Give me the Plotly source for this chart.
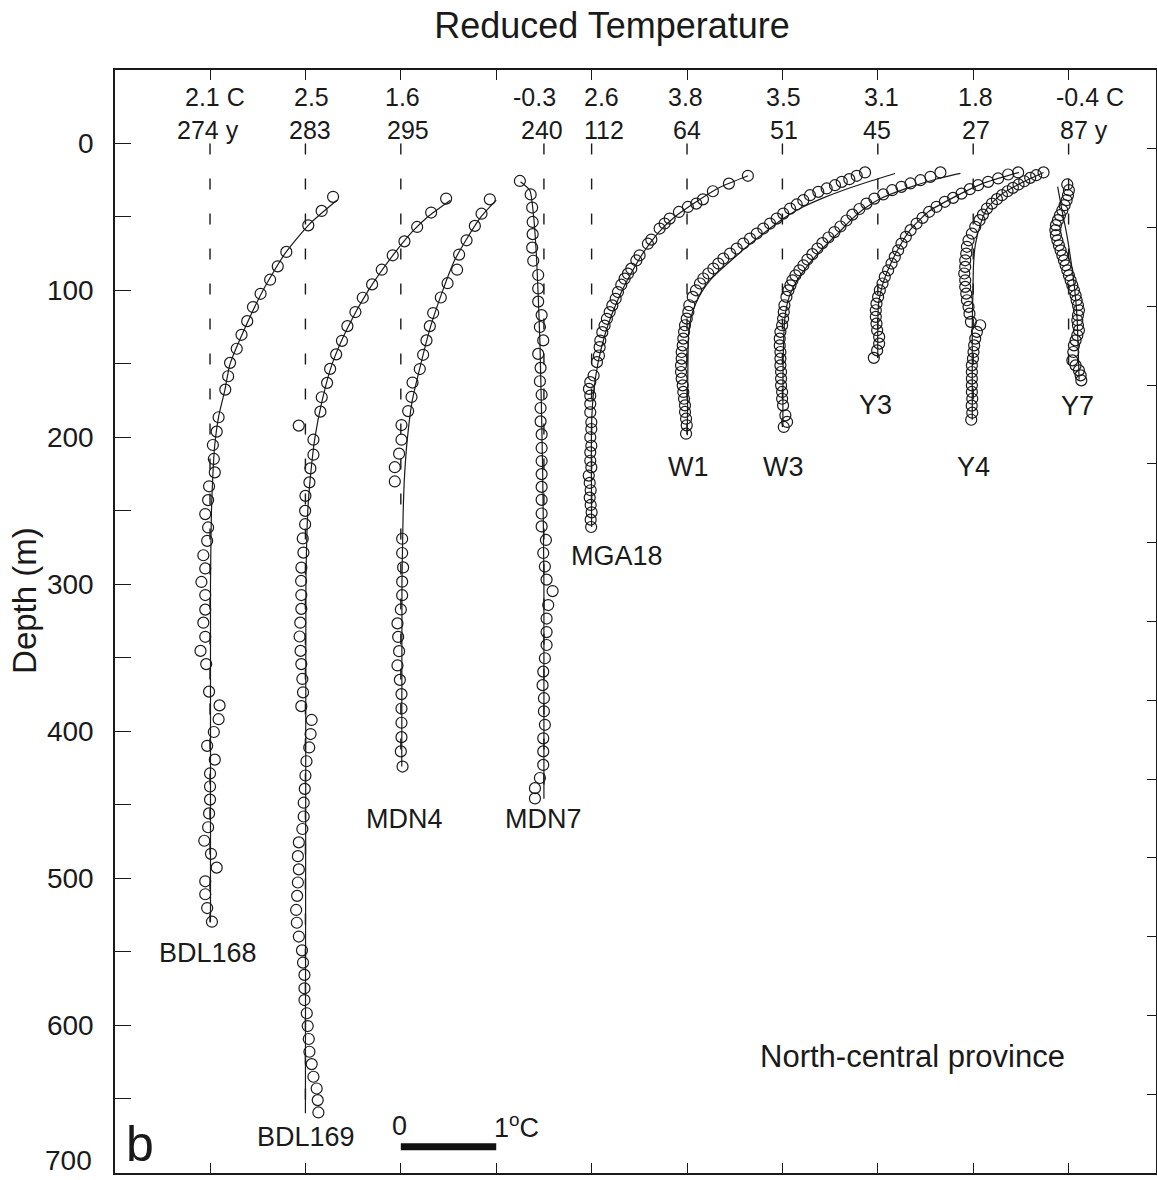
import plotly.graph_objects as go

FONT = "Liberation Sans, Arial, Helvetica, sans-serif"
INK = "#1a1a1a"

# ---------------- data ----------------
WELLS = ["BDL168", "BDL169", "MDN4", "MDN7", "MGA18", "W1", "W3", "Y3", "Y4", "Y7"]
WELL_X = [0.0, 1.0, 2.0, 3.5, 4.0, 5.0, 6.0, 7.0, 8.0, 9.0]      # reference (dashed) position, deg C offset
SURFACE_T = ["2.1 C", "2.5", "1.6", "-0.3", "2.6", "3.8", "3.5", "3.1", "1.8", "-0.4 C"]
AGE = ["274 y", "283", "295", "240", "112", "64", "51", "45", "27", "87 y"]
DEPTH_TICKS = [0, 100, 200, 300, 400, 500, 600, 700]

BDL168_z = [36.3, 45.9, 55.7, 73.8, 83.6, 92.7, 102.3, 111.3, 120.9, 130.2, 139.7, 149.3, 158.4, 167.5, 186.3,
            196.1, 205.2, 214.7, 223.8, 233.3, 242.7, 252.2, 261.3, 270.4, 280.2, 289.2, 298.4, 307.3, 317.2,
            326.1, 335.7, 345.3, 354.3, 373.0, 382.4, 391.8, 400.5, 409.9, 419.3, 428.7, 437.6, 446.5, 455.9,
            465.3, 474.5, 483.4, 492.8, 502.1, 510.9, 520.3, 529.6]
BDL168_dT = [1.29, 1.17, 1.03, 0.80, 0.71, 0.63, 0.53, 0.45, 0.39, 0.33, 0.28, 0.21, 0.19, 0.16, 0.09,
             0.07, 0.03, 0.04, 0.05, -0.01, -0.02, -0.05, -0.02, -0.03, -0.07, -0.05, -0.09, -0.05, -0.05,
             -0.07, -0.05, -0.10, -0.04, -0.01, 0.10, 0.09, 0.04, -0.03, 0.05, 0.0, 0.0, 0.0, -0.01,
             -0.02, -0.06, 0.01, 0.07, -0.05, -0.05, -0.03, 0.02]
BDL168_fit_z = [38.6, 55, 75, 100, 125, 150, 168, 186, 205, 225, 250, 300, 530]
BDL168_fit_dT = [1.33, 1.04, 0.785, 0.555, 0.37, 0.21, 0.155, 0.09, 0.05, 0.03, 0.015, 0.005, 0.005]

BDL169_z = [37.5, 47.0, 56.8, 66.6, 76.1, 85.9, 95.9, 105.0, 114.7, 124.3, 134.3, 143.5, 153.4, 162.9, 172.7,
            182.5, 192.0, 201.6, 211.8, 221.1, 230.6, 239.8, 250.0, 259.1, 268.8, 278.4, 288.6, 297.7, 307.3,
            316.7, 326.1, 335.5, 345.3, 354.3, 364.4, 373.5, 382.9, 392.3, 401.9, 411.0, 420.4, 430.1, 439.2,
            448.6, 458.0, 466.5, 475.6, 485.0, 494.0, 502.9, 512.0, 521.6, 530.3, 539.7, 549.1, 557.4, 565.8,
            574.9, 582.9, 591.9, 600.6, 609.4, 618.1, 626.5, 635.1, 643.1, 651.0, 659.4]
BDL169_dT = [1.475, 1.318, 1.171, 1.038, 0.915, 0.800, 0.699, 0.601, 0.524, 0.44, 0.383, 0.322, 0.259, 0.227,
             0.171, 0.157, -0.070, 0.084, 0.084, 0.052, 0.042, 0.0, -0.003, -0.003, -0.028, -0.021, -0.042,
             -0.045, -0.043, -0.043, -0.054, -0.061, -0.051, -0.043, -0.032, -0.025, -0.043, 0.065, 0.054,
             0.040, 0.011, 0.0, -0.007, -0.018, -0.018, -0.032, -0.069, -0.079, -0.069, -0.079, -0.087,
             -0.097, -0.090, -0.069, -0.036, -0.025, -0.010, -0.010, -0.010, 0.014, 0.024, 0.035, 0.042,
             0.066, 0.084, 0.118, 0.129, 0.136]
BDL169_fit_z = [38.6, 50, 60, 75, 100, 125, 150, 175, 200, 225, 250, 300, 660]
BDL169_fit_dT = [1.52, 1.28, 1.12, 0.93, 0.66, 0.445, 0.28, 0.175, 0.10, 0.055, 0.025, 0.005, 0.0]

MDN4_z = [38.0, 47.8, 56.1, 65.9, 75.6, 85.9, 95.1, 104.8, 115.4, 124.3, 134.0, 143.8, 153.5, 162.7, 172.5,
          182.1, 191.6, 201.6, 211.1, 220.3, 230.0, 269.0, 278.7, 288.5, 298.2, 307.4, 317.1, 326.6, 335.8,
          345.5, 355.2, 365.0, 374.7, 384.5, 394.2, 404.0, 413.7, 424.0]
MDN4_dT = [0.933, 0.846, 0.776, 0.689, 0.611, 0.590, 0.490, 0.419, 0.339, 0.304, 0.269, 0.234, 0.199, 0.123,
           0.112, 0.077, 0.007, 0.007, -0.018, -0.063, -0.063, 0.014, 0.014, 0.024, 0.014, 0.014, 0.0, -0.035,
           -0.028, -0.018, -0.035, -0.010, 0.007, 0.007, 0.007, 0.007, 0.0, 0.018]
MDN4_fit_z = [38.6, 50, 65, 80, 100, 125, 150, 175, 200, 225, 250, 275, 300, 424]
MDN4_fit_dT = [1.0, 0.84, 0.69, 0.56, 0.44, 0.31, 0.21, 0.12, 0.07, 0.04, 0.025, 0.018, 0.012, 0.01]

MDN7_z = [25.5, 34.7, 43.6, 53.4, 61.7, 70.9, 79.8, 89.5, 98.7, 107.6, 116.8, 124.9, 134.0, 143.2, 152.7,
          161.8, 171.0, 180.0, 189.1, 198.0, 207.2, 216.1, 225.0, 233.7, 242.5, 251.8, 260.6, 269.8, 278.7,
          287.9, 296.8, 304.6, 314.1, 323.3, 332.5, 341.3, 350.3, 359.4, 368.6, 377.5, 386.4, 395.6, 404.8,
          413.7, 422.9, 431.8, 438.7, 445.7]
MDN7_dT = [-0.252, -0.139, -0.123, -0.118, -0.118, -0.123, -0.112, -0.060, -0.060, -0.060, -0.024, -0.042,
           -0.007, -0.060, -0.035, -0.042, -0.024, -0.035, -0.035, -0.024, -0.024, -0.024, -0.024, -0.024,
           -0.024, -0.024, -0.024, 0.021, -0.007, 0.010, 0.028, 0.091, 0.045, 0.028, 0.028, 0.028, 0.010,
           -0.007, -0.014, 0.0, 0.0, 0.010, -0.007, -0.007, -0.007, -0.042, -0.094, -0.094]
MDN7_fit_z = [26, 32, 47, 78, 135, 220, 300, 446]
MDN7_fit_dT = [-0.245, -0.147, -0.112, -0.077, -0.042, -0.014, 0.0, 0.0]

MGA18_z = [22.0, 27.3, 32.5, 38.0, 40.9, 43.2, 46.6, 51.1, 54.5, 57.9, 65.4, 68.2, 76.1, 79.6, 85.2, 88.6,
           92.0, 96.1, 101.1, 105.7, 110.2, 114.7, 119.3, 123.9, 128.4, 134.1, 138.6, 144.3, 148.8, 157.9,
           162.4, 167.0, 171.6, 177.2, 182.9, 189.7, 194.3, 199.9, 205.7, 210.2, 215.9, 220.4, 226.0, 231.0,
           236.0, 241.0, 246.0, 251.0, 256.0, 261.0]
MGA18_dT = [1.638, 1.439, 1.271, 1.167, 1.097, 1.009, 0.915, 0.818, 0.765, 0.713, 0.626, 0.590, 0.503, 0.469,
            0.416, 0.381, 0.346, 0.311, 0.276, 0.252, 0.217, 0.189, 0.160, 0.136, 0.112, 0.091, 0.084, 0.077,
            0.056, 0.021, -0.014, -0.028, -0.014, -0.014, -0.014, -0.003, -0.003, -0.014, -0.003, -0.014,
            -0.014, -0.003, -0.03, -0.02, -0.01, -0.02, -0.01, 0.0, -0.01, -0.005]
MGA18_fit_z = [22, 30, 40, 50, 60, 75, 90, 100, 115, 130, 150, 170, 190, 261]
MGA18_fit_dT = [1.64, 1.34, 1.09, 0.87, 0.71, 0.535, 0.40, 0.32, 0.22, 0.14, 0.065, 0.02, 0.0, 0.0]

W1_z = [19.7, 22.0, 24.3, 26.1, 28.4, 30.6, 32.9, 35.2, 38.6, 41.5, 44.3, 47.7, 51.1, 54.5, 57.9, 61.3, 64.7,
        68.1, 71.5, 74.9, 78.3, 81.7, 85.1, 88.5, 91.9, 95.3, 99.9, 104.4, 110.1, 114.6, 119.2, 123.7, 128.2,
        132.8, 137.4, 141.9, 146.4, 151.0, 155.5, 160.0, 164.6, 169.1, 173.7, 178.2, 182.7, 187.3, 191.8, 197.5]
W1_dT = [1.866, 1.779, 1.701, 1.622, 1.551, 1.464, 1.376, 1.289, 1.219, 1.150, 1.080, 1.009, 0.940, 0.870,
         0.800, 0.731, 0.660, 0.590, 0.521, 0.451, 0.381, 0.328, 0.276, 0.223, 0.171, 0.136, 0.094, 0.060,
         0.024, 0.014, -0.003, -0.021, -0.031, -0.039, -0.045, -0.056, -0.056, -0.063, -0.063, -0.056,
         -0.045, -0.039, -0.031, -0.021, -0.021, -0.010, -0.003, -0.010]
W1_fit_z = [20.4, 25.7, 31.8, 37.0, 43.1, 51.1, 61.3, 70.3, 78.3, 86.3, 93.1, 101.0, 110.1, 119.2, 128.2,
            146.4, 169.1, 198.6]
W1_fit_dT = [2.18, 1.918, 1.638, 1.429, 1.219, 1.009, 0.80, 0.626, 0.485, 0.346, 0.241, 0.154, 0.084, 0.039,
             0.018, 0.010, 0.007, 0.003]

W3_z = [19.7, 22.7, 25.0, 27.2, 29.5, 31.8, 34.7, 37.5, 40.9, 44.6, 48.4, 52.4, 56.5, 60.3, 64.0, 67.8, 71.5,
        75.3, 79.0, 82.9, 86.3, 89.7, 93.1, 96.5, 99.9, 104.4, 110.1, 114.6, 119.2, 123.7, 128.2, 132.8, 137.4,
        141.9, 146.4, 151.0, 155.5, 160.0, 164.6, 169.1, 173.7, 178.2, 185.0, 189.5, 192.9]
W3_dT = [1.656, 1.551, 1.447, 1.342, 1.247, 1.150, 1.056, 0.964, 0.881, 0.807, 0.734, 0.671, 0.608, 0.545,
         0.482, 0.419, 0.367, 0.314, 0.262, 0.220, 0.178, 0.136, 0.105, 0.084, 0.063, 0.042, 0.021, 0.014,
         0.007, -0.003, -0.021, -0.028, -0.028, -0.021, -0.021, -0.021, -0.014, -0.014, -0.014, -0.003,
         -0.003, 0.007, 0.031, 0.049, 0.014]
W3_fit_z = [20.4, 24.5, 30.6, 37.5, 44.3, 52, 60, 71.5, 85.1, 96.5, 105.6, 119.2, 146.4, 192.7]
W3_fit_dT = [1.866, 1.60, 1.30, 1.03, 0.86, 0.72, 0.60, 0.42, 0.24, 0.125, 0.065, 0.025, 0.008, 0.005]

Y3_z = [19.7, 21.1, 23.8, 26.1, 28.4, 31.1, 34.1, 37.0, 39.7, 43.1, 46.5, 50.6, 54.5, 59.0, 63.5, 68.1, 72.7,
        77.2, 81.7, 86.3, 90.8, 95.3, 99.9, 104.4, 109.0, 113.5, 118.0, 122.6, 127.1, 131.6, 136.2, 140.8, 145.9]
Y3_dT = [1.471, 1.366, 1.261, 1.156, 1.051, 0.964, 0.877, 0.789, 0.702, 0.615, 0.538, 0.469, 0.406, 0.343,
         0.294, 0.248, 0.213, 0.178, 0.144, 0.108, 0.073, 0.049, 0.021, 0.003, -0.014, -0.021, -0.021, -0.014,
         -0.007, 0.014, 0.014, -0.007, -0.042]
Y3_fit_z = [19.7, 27.5, 36.5, 46, 58, 71, 84, 96, 108, 120, 146]
Y3_fit_dT = [1.48, 1.09, 0.80, 0.54, 0.35, 0.22, 0.12, 0.05, 0.01, 0.0, 0.0]

Y4_z = [19.7, 21.6, 23.4, 25.7, 27.9, 30.2, 32.5, 35.2, 37.9, 40.9, 44.3, 48.4, 52.2, 56.7, 61.3, 65.9, 70.3,
        74.9, 79.5, 84.0, 88.5, 93.1, 97.6, 102.2, 106.7, 111.2, 115.8, 121.4, 123.7, 128.2, 132.8, 137.4,
        141.9, 146.4, 151.0, 155.5, 160.0, 164.6, 169.1, 173.7, 178.4, 183.2, 188.0]
Y4_dT = [0.737, 0.660, 0.597, 0.535, 0.475, 0.416, 0.360, 0.301, 0.248, 0.196, 0.144, 0.102, 0.066, 0.021,
         -0.014, -0.049, -0.066, -0.073, -0.084, -0.084, -0.094, -0.084, -0.084, -0.073, -0.066, -0.049,
         -0.039, -0.024, 0.073, 0.039, 0.021, 0.010, 0.003, -0.003, -0.014, -0.014, -0.014, -0.014, -0.014,
         -0.010, -0.016, -0.010, -0.021]
Y4_fit_z = [19.7, 27.2, 35.2, 44.3, 55.6, 69.3, 82.9, 101.0, 123.7, 188.0]
Y4_fit_dT = [0.737, 0.493, 0.283, 0.144, 0.073, 0.021, 0.003, -0.003, -0.010, -0.010]

Y7_z = [27.9, 31.8, 35.2, 38.6, 42.0, 45.4, 48.8, 52.2, 55.6, 59.0, 62.4, 65.9, 69.3, 72.7, 76.1, 79.5, 82.9,
        86.3, 89.7, 93.1, 96.5, 99.9, 103.3, 106.7, 110.1, 113.5, 116.9, 120.3, 123.7, 127.1, 130.5, 134.0,
        137.4, 141.9, 147.6, 151.0, 154.4, 157.8, 161.2]
Y7_dT = [-0.014, 0.003, -0.007, -0.021, -0.042, -0.066, -0.091, -0.112, -0.133, -0.139, -0.133, -0.118,
         -0.102, -0.084, -0.066, -0.049, -0.031, -0.014, 0.003, 0.021, 0.039, 0.056, 0.073, 0.084, 0.098,
         0.108, 0.098, 0.091, 0.098, 0.108, 0.091, 0.073, 0.056, 0.049, 0.039, 0.073, 0.108, 0.126, 0.133]
Y7_fit_z = [29.3, 44.3, 61.3, 78.3, 98.7, 119.2, 139.6, 160.7]
Y7_fit_dT = [-0.115, -0.073, -0.021, 0.021, 0.063, 0.089, 0.100, 0.110]

SCALE_BAR_T = [0, 1]          # 1 deg C scale bar
# ---------------------------------------

OBS = {
    "BDL168": (BDL168_dT, BDL168_z, BDL168_fit_dT, BDL168_fit_z),
    "BDL169": (BDL169_dT, BDL169_z, BDL169_fit_dT, BDL169_fit_z),
    "MDN4": (MDN4_dT, MDN4_z, MDN4_fit_dT, MDN4_fit_z),
    "MDN7": (MDN7_dT, MDN7_z, MDN7_fit_dT, MDN7_fit_z),
    "MGA18": (MGA18_dT, MGA18_z, MGA18_fit_dT, MGA18_fit_z),
    "W1": (W1_dT, W1_z, W1_fit_dT, W1_fit_z),
    "W3": (W3_dT, W3_z, W3_fit_dT, W3_fit_z),
    "Y3": (Y3_dT, Y3_z, Y3_fit_dT, Y3_fit_z),
    "Y4": (Y4_dT, Y4_z, Y4_fit_dT, Y4_fit_z),
    "Y7": (Y7_dT, Y7_z, Y7_fit_dT, Y7_fit_z),
}

# label placement (layout only)
TOP_T_X = [0.05, 1.06, 2.02, 3.40, 4.10, 4.98, 6.01, 7.04, 8.02, 9.22]
TOP_AGE_X = [-0.02, 1.045, 2.07, 3.475, 4.13, 4.995, 6.02, 6.99, 8.03, 9.16]
NAME_POS = [(-0.02, 551), (1.01, 676), (2.04, 460), (3.5, 460), (4.27, 280.5),
            (5.02, 220), (6.01, 220), (6.98, 178), (8.0, 220), (9.09, 178.5)]

fig = go.Figure()

for name, x0 in zip(WELLS, WELL_X):
    dT, z, fdT, fz = OBS[name]
    zmax = max(max(z), max(fz))
    fig.add_trace(go.Scatter(x=[x0, x0], y=[0, zmax], mode="lines",
                             line=dict(color=INK, width=1.4, dash="11px,24px"),
                             hoverinfo="skip", showlegend=False))
    fig.add_trace(go.Scatter(x=[x0 + v for v in fdT], y=fz, mode="lines",
                             line=dict(color=INK, width=1.2, shape="spline", smoothing=0.6),
                             showlegend=False, name=name + " fit"))
    fig.add_trace(go.Scatter(x=[x0 + v for v in dT], y=z, mode="markers",
                             marker=dict(symbol="circle-open", size=11, color=INK,
                                         line=dict(width=1.2, color=INK)),
                             showlegend=False, name=name))

# scale bar (starts at MDN4 reference position)
fig.add_trace(go.Scatter(x=[WELL_X[2] + v for v in SCALE_BAR_T], y=[682.7, 682.7], mode="lines",
                         line=dict(color="#111111", width=7), hoverinfo="skip", showlegend=False))

# dummy trace to materialise the right-hand axis
fig.add_trace(go.Scatter(x=[0], y=[0], yaxis="y2", mode="markers",
                         marker=dict(opacity=0), hoverinfo="skip", showlegend=False))

ann = []
for i in range(len(WELLS)):
    ann.append(dict(x=TOP_T_X[i], y=-31.6, xref="x", yref="y", text=SURFACE_T[i], showarrow=False,
                    font=dict(size=25, color=INK, family=FONT), xanchor="center", yanchor="middle"))
    ann.append(dict(x=TOP_AGE_X[i], y=-9.2, xref="x", yref="y", text=AGE[i], showarrow=False,
                    font=dict(size=25, color=INK, family=FONT), xanchor="center", yanchor="middle"))
    nx, ny = NAME_POS[i]
    ann.append(dict(x=nx, y=ny, xref="x", yref="y", text=WELLS[i], showarrow=False,
                    font=dict(size=27, color=INK, family=FONT), xanchor="center", yanchor="middle"))

ann += [
    dict(x=7.36, y=621, xref="x", yref="y", text="North-central province", showarrow=False,
         font=dict(size=31, color=INK, family=FONT), xanchor="center", yanchor="middle"),
    dict(x=-0.73, y=681, xref="x", yref="y", text="b", showarrow=False,
         font=dict(size=50, color=INK, family=FONT), xanchor="center", yanchor="middle"),
    dict(x=1.99, y=668.7, xref="x", yref="y", text="0", showarrow=False,
         font=dict(size=27, color=INK, family=FONT), xanchor="center", yanchor="middle"),
    dict(x=3.21, y=668.7, xref="x", yref="y", text="1<sup>o</sup>C", showarrow=False,
         font=dict(size=27, color=INK, family=FONT), xanchor="center", yanchor="middle"),
    dict(x=-0.0865, y=0.5195, xref="paper", yref="paper", text="Depth (m)", showarrow=False,
         textangle=-90, font=dict(size=33, color=INK, family=FONT), xanchor="center", yanchor="middle"),
    # bottom depth label, lifted so it stays inside the page
    dict(x=-0.0202, y=DEPTH_TICKS[-1] - 8, xref="paper", yref="y", text=str(DEPTH_TICKS[-1]),
         showarrow=False, font=dict(size=28, color=INK, family=FONT), xanchor="right", yanchor="middle"),
]

fig.update_layout(
    width=1157, height=1180,
    margin=dict(l=115, r=1, t=70, b=7, autoexpand=False),
    paper_bgcolor="white", plot_bgcolor="white",
    font=dict(family=FONT, color=INK),
    title=dict(text="Reduced Temperature", x=612 / 1157, y=1 - 25 / 1180, xanchor="center",
               yanchor="middle", font=dict(size=36, color=INK, family=FONT)),
    xaxis=dict(range=[-0.996, 9.916], tickvals=list(range(10)), ticks="inside", ticklen=10,
               tickwidth=1.3, tickcolor=INK, showticklabels=False, showline=True, linecolor=INK,
               linewidth=1.5, mirror="ticks", showgrid=False, zeroline=False, automargin=False),
    yaxis=dict(range=[700.6, -50], tickvals=DEPTH_TICKS,
               ticktext=[str(v) for v in DEPTH_TICKS[:-1]] + [""],
               ticks="inside", ticklen=16,
               tickwidth=1.3, tickcolor=INK, showline=True, linecolor=INK, linewidth=1.5, mirror=False,
               showgrid=False, zeroline=False, tickfont=dict(size=28, color=INK, family=FONT),
               ticklabelstandoff=14, automargin=False,
               minor=dict(tickvals=list(range(50, 700, 100)), ticks="inside", ticklen=16,
                          tickwidth=1.3, tickcolor=INK, showgrid=False)),
    yaxis2=dict(overlaying="y", side="right", range=[13, -1], tickvals=list(range(13)),
                ticks="inside", ticklen=9, tickwidth=1.3, tickcolor=INK, showticklabels=False,
                showline=True, linecolor=INK, linewidth=1.5, showgrid=False, zeroline=False,
                automargin=False),
    annotations=ann,
    showlegend=False,
)

fig.write_html("out.html", config={"displayModeBar": False},
               post_script="document.body.style.margin='0';document.body.style.overflow='hidden';")
